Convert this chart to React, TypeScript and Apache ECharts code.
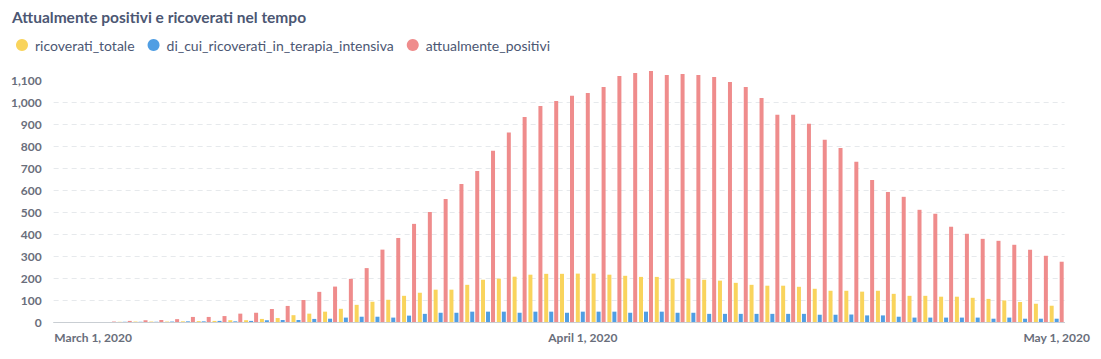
import React, { useEffect, useRef } from "react";
import * as echarts from "echarts";

const dates = [
  "2020-02-28", "2020-02-29", "2020-03-01", "2020-03-02", "2020-03-03", "2020-03-04", "2020-03-05", "2020-03-06",
  "2020-03-07", "2020-03-08", "2020-03-09", "2020-03-10", "2020-03-11", "2020-03-12", "2020-03-13", "2020-03-14",
  "2020-03-15", "2020-03-16", "2020-03-17", "2020-03-18", "2020-03-19", "2020-03-20", "2020-03-21", "2020-03-22",
  "2020-03-23", "2020-03-24", "2020-03-25", "2020-03-26", "2020-03-27", "2020-03-28", "2020-03-29", "2020-03-30",
  "2020-03-31", "2020-04-01", "2020-04-02", "2020-04-03", "2020-04-04", "2020-04-05", "2020-04-06", "2020-04-07",
  "2020-04-08", "2020-04-09", "2020-04-10", "2020-04-11", "2020-04-12", "2020-04-13", "2020-04-14", "2020-04-15",
  "2020-04-16", "2020-04-17", "2020-04-18", "2020-04-19", "2020-04-20", "2020-04-21", "2020-04-22", "2020-04-23",
  "2020-04-24", "2020-04-25", "2020-04-26", "2020-04-27", "2020-04-28", "2020-04-29", "2020-04-30", "2020-05-01",
];

const ricoveratiTotale = [
  0, 0, 0, 0, 1, 2, 2, 2,
  3, 4, 5, 8, 8, 14, 18, 31,
  38, 47, 60, 78, 92, 101, 119, 133,
  147, 147, 169, 192, 197, 206, 215, 219,
  219, 220, 220, 215, 210, 205, 205, 197,
  197, 192, 188, 178, 169, 165, 165, 160,
  151, 142, 142, 138, 142, 128, 119, 119,
  115, 115, 110, 105, 98, 91, 83, 74,
];

const terapiaIntensiva = [
  0, 0, 0, 0, 1, 1, 1, 2,
  3, 3, 5, 3, 5, 8, 9, 9,
  14, 15, 20, 24, 24, 20, 29, 37,
  42, 42, 47, 47, 47, 42, 47, 47,
  42, 47, 47, 47, 42, 47, 47, 42,
  42, 37, 37, 37, 37, 37, 37, 37,
  33, 33, 34, 30, 30, 24, 20, 20,
  20, 20, 20, 15, 20, 15, 15, 15,
];

const attualmentePositivi = [
  0, 0, 0, 2, 5, 8, 9, 13,
  23, 23, 27, 38, 42, 59, 73, 100,
  137, 161, 196, 245, 329, 382, 446, 500,
  559, 627, 686, 778, 861, 932, 982, 1005,
  1028, 1041, 1068, 1118, 1132, 1141, 1123, 1127,
  1123, 1114, 1091, 1068, 1018, 942, 942, 901,
  828, 791, 728, 646, 591, 569, 510, 492,
  433, 401, 378, 369, 351, 328, 301, 274,
];

const seriesNames = ["ricoverati_totale", "di_cui_ricoverati_in_terapia_intensiva", "attualmente_positivi"];
const seriesColors = ["#F9D45C", "#509EE3", "#EF8C8C"];
const monthNames = [
  "January", "February", "March", "April", "May", "June",
  "July", "August", "September", "October", "November", "December",
];

const FONT = "Lato, 'Noto Sans', sans-serif";

function formatDate(value: string): string {
  const [y, m, d] = value.split("-").map((s) => parseInt(s, 10));
  return `${monthNames[m - 1]} ${d}, ${y}`;
}

export default function App() {
  const ref = useRef<HTMLDivElement>(null);

  useEffect(() => {
    if (!ref.current) return;
    const chart = echarts.init(ref.current, undefined, { renderer: "svg" });
    const gridColors = Array.from({ length: 12 }, (_, i) => (i === 11 ? "rgba(0,0,0,0)" : "#E6E9EC"));
    chart.setOption({
      animation: false,
      textStyle: { fontFamily: FONT },
      title: {
        text: "Attualmente positivi e ricoverati nel tempo",
        left: 4,
        top: 1,
        padding: 0,
        textStyle: { fontFamily: FONT, fontSize: 15.5, fontWeight: 700, color: "#4C5773" },
      },
      legend: {
        left: 3,
        top: 25,
        icon: "circle",
        itemWidth: 12,
        itemHeight: 12,
        itemGap: 13,
        data: seriesNames,
        textStyle: { fontFamily: FONT, fontSize: 14, color: "#4C5773", padding: [0, 0, 0, 2] },
      },
      grid: { left: 42, right: 18, top: 61, bottom: 29 },
      xAxis: {
        type: "category",
        data: dates,
        boundaryGap: true,
        axisLine: { lineStyle: { color: "#C9CED3" } },
        axisTick: { show: false },
        axisLabel: {
          interval: (_i: number, v: string) => v.endsWith("-01"),
          formatter: (v: string) => formatDate(v),
          color: "#696E7B",
          fontFamily: FONT,
          fontSize: 12,
          fontWeight: 700,
          margin: 9,
        },
        splitLine: { show: false },
      },
      yAxis: {
        type: "value",
        min: 0,
        max: 1150,
        interval: 100,
        axisLine: { show: false },
        axisTick: { show: false },
        axisLabel: {
          showMaxLabel: false,
          formatter: (v: number) => v.toLocaleString("en-US"),
          color: "#696E7B",
          fontFamily: FONT,
          fontSize: 12,
          fontWeight: 700,
          margin: 12,
        },
        splitLine: {
          show: true,
          showMaxLine: false,
          lineStyle: { color: gridColors, type: [5, 4], width: 1 },
        },
      },
      series: [ricoveratiTotale, terapiaIntensiva, attualmentePositivi].map((data, i) => ({
        name: seriesNames[i],
        type: "bar",
        data,
        barWidth: 4,
        barGap: "25%",
        itemStyle: { color: seriesColors[i] },
      })),
    });
    return () => chart.dispose();
  }, []);

  return <div ref={ref} style={{ width: 1085, height: 343 }} />;
}
